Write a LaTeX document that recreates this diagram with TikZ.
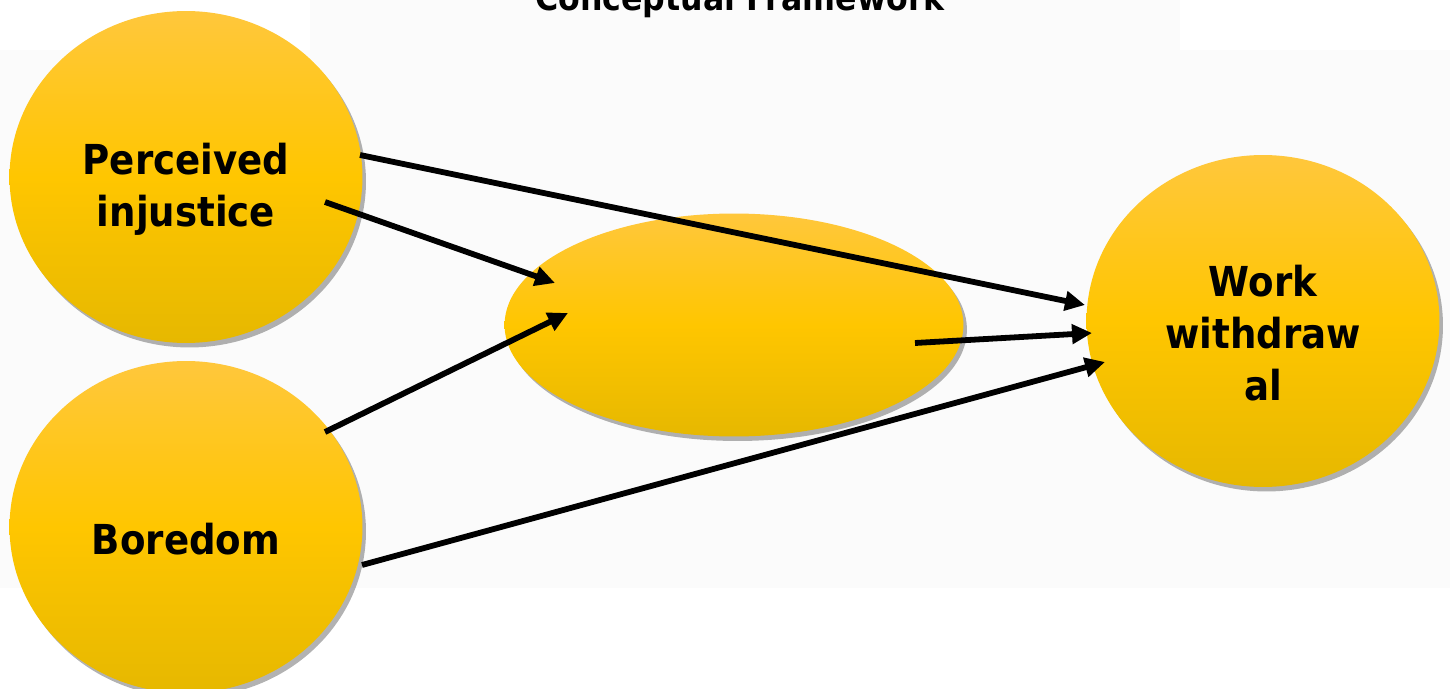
\documentclass[tikz,border=0pt]{standalone}
\usepackage{fontspec}
\setmainfont{DejaVu Sans Condensed}
\usepackage{tikz}
\usetikzlibrary{shapes.geometric,shadows,arrows.meta}

\definecolor{goldtop}{RGB}{255,199,60}
\definecolor{goldmid}{RGB}{255,198,0}
\definecolor{goldbot}{RGB}{230,184,0}
\definecolor{paper}{RGB}{251,251,251}

\tikzset{
  concept/.style={ellipse, top color=goldtop, bottom color=goldbot, middle color=goldmid,
    drop shadow={shadow xshift=0.07cm, shadow yshift=-0.09cm, fill=black, opacity=0.3},
    inner sep=0pt},
  word/.style={font=\bfseries\fontsize{23.5}{29.6}\selectfont, align=center, yshift=-0.25cm},
  link/.style={line width=3.3pt, -{Triangle[length=0.4cm,width=0.38cm]}}
}

\begin{document}
\begin{tikzpicture}[x=0.02cm, y=-0.02cm]
\useasboundingbox (0,0) rectangle (1450,689);

% Background
\fill[paper] (0,50) rectangle (1450,588);
\fill[paper] (310,0) rectangle (1180,50);

% Title
\node[font=\bfseries\fontsize{20}{24}\selectfont, anchor=base] (title) at (740,11) {Conceptual Framework};

% Variables
\node[concept, minimum width=7.06cm, minimum height=6.64cm] (pi) at (186,177) {};
\node[concept, minimum width=7.06cm, minimum height=6.64cm] (bo) at (186,527) {};
\node[concept, minimum width=9.18cm, minimum height=4.46cm] (mid) at (734,325) {};
\node[concept, minimum width=7.06cm, minimum height=6.64cm] (ww) at (1263,321) {};

\node[word] (pitext) at (pi) {Perceived\\injustice};
\node[word] (botext) at (bo) {Boredom};
\node[word] (wwtext) at (ww) {Work\\withdraw\\al};

% Paths
\draw[link] ([shift={(174,-22)}]pi.center) -- ([shift={(-178,-16)}]ww.center);
\draw[link] ([shift={(139,25)}]pi.center) -- ([shift={(-179,-42)}]mid.center);
\draw[link] ([shift={(139,-95)}]bo.center) -- ([shift={(-166,-12)}]mid.center);
\draw[link] ([shift={(181,18)}]mid.center) -- ([shift={(-171,12)}]ww.center);
\draw[link] ([shift={(176,38)}]bo.center) -- ([shift={(-158,41)}]ww.center);

\end{tikzpicture}
\end{document}
